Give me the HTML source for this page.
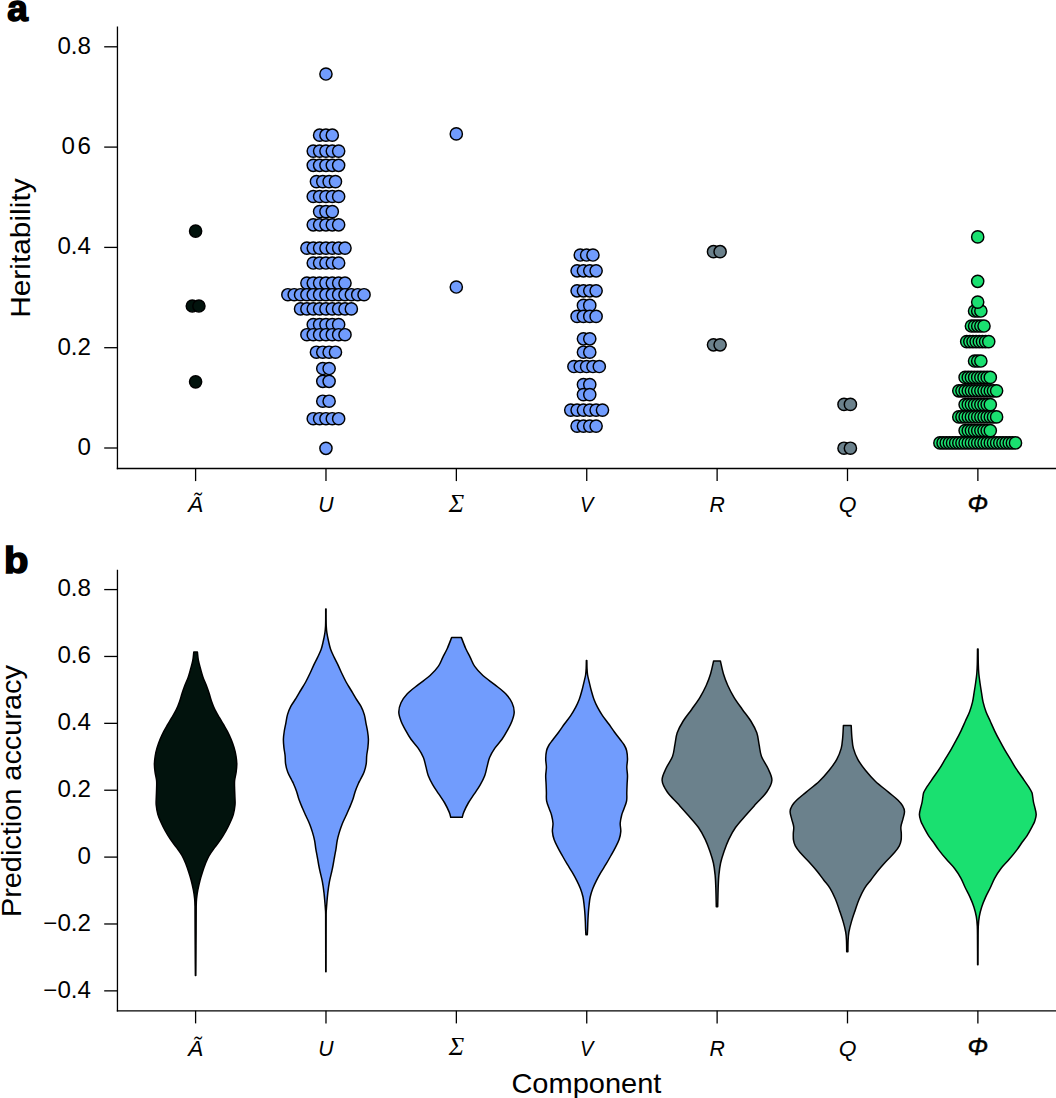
<!DOCTYPE html>
<html><head><meta charset="utf-8"><style>
html,body{margin:0;padding:0;background:#fff;}
svg{display:block;}
.tk{font-family:"Liberation Sans",sans-serif;font-size:23px;fill:#000;}
.at{font-family:"Liberation Sans",sans-serif;font-size:27px;fill:#000;}
.pl{font-family:"Liberation Sans",sans-serif;font-size:37px;font-weight:bold;fill:#000;stroke:#000;stroke-width:1.6px;}
.xl{font-family:"Liberation Sans",sans-serif;font-size:22.8px;font-style:italic;fill:#000;}
.xphi{font-family:"Liberation Serif",serif;font-size:26px;font-style:italic;fill:#000;}
.xphi2{font-family:"Liberation Sans",sans-serif;font-size:24.5px;font-style:italic;fill:#000;stroke:#000;stroke-width:0.5px;}
</style></head><body>
<svg width="1056" height="1098" viewBox="0 0 1056 1098">
<line x1="117.45" y1="26.6" x2="117.45" y2="469.15" stroke="#000" stroke-width="1.3"/>
<line x1="116.8" y1="468.5" x2="1056" y2="468.5" stroke="#000" stroke-width="1.3"/>
<line x1="104.2" y1="448.00" x2="117.45" y2="448.00" stroke="#000" stroke-width="1.3"/>
<text transform="translate(91.0 454.90) scale(1.05 1)" class="tk" text-anchor="end">0</text>
<line x1="104.2" y1="347.70" x2="117.45" y2="347.70" stroke="#000" stroke-width="1.3"/>
<text transform="translate(91.0 354.60) scale(1.05 1)" class="tk" text-anchor="end">0.2</text>
<line x1="104.2" y1="247.40" x2="117.45" y2="247.40" stroke="#000" stroke-width="1.3"/>
<text transform="translate(91.0 254.30) scale(1.05 1)" class="tk" text-anchor="end">0.4</text>
<line x1="104.2" y1="147.10" x2="117.45" y2="147.10" stroke="#000" stroke-width="1.3"/>
<text transform="translate(91.0 154.00) scale(1.05 1)" class="tk" text-anchor="end">0<tspan dx="2.5">6</tspan></text>
<line x1="104.2" y1="46.80" x2="117.45" y2="46.80" stroke="#000" stroke-width="1.3"/>
<text transform="translate(91.0 53.70) scale(1.05 1)" class="tk" text-anchor="end">0.8</text>
<line x1="195.60" y1="468.5" x2="195.60" y2="481.10" stroke="#000" stroke-width="1.3"/>
<line x1="325.98" y1="468.5" x2="325.98" y2="481.10" stroke="#000" stroke-width="1.3"/>
<line x1="456.36" y1="468.5" x2="456.36" y2="481.10" stroke="#000" stroke-width="1.3"/>
<line x1="586.74" y1="468.5" x2="586.74" y2="481.10" stroke="#000" stroke-width="1.3"/>
<line x1="717.12" y1="468.5" x2="717.12" y2="481.10" stroke="#000" stroke-width="1.3"/>
<line x1="847.50" y1="468.5" x2="847.50" y2="481.10" stroke="#000" stroke-width="1.3"/>
<line x1="977.88" y1="468.5" x2="977.88" y2="481.10" stroke="#000" stroke-width="1.3"/>
<text transform="translate(195.60 512.3) scale(1.0 1)" class="xl" text-anchor="middle">A&#771;</text>
<text transform="translate(325.98 512.3) scale(0.93 1)" class="xl" text-anchor="middle">U</text>
<text transform="translate(586.74 512.3) scale(0.88 1)" class="xl" text-anchor="middle">V</text>
<text transform="translate(717.12 512.3) scale(0.93 1)" class="xl" text-anchor="middle">R</text>
<text transform="translate(847.50 512.3) scale(1.0 1)" class="xl" text-anchor="middle">Q</text>
<text x="456.36" y="511.79999999999995" class="xphi" text-anchor="middle">&#931;</text>
<text x="977.88" y="511.79999999999995" class="xphi2" text-anchor="middle">&#934;</text>
<line x1="117.45" y1="569.8" x2="117.45" y2="1011.4499999999999" stroke="#000" stroke-width="1.3"/>
<line x1="116.8" y1="1010.8" x2="1056" y2="1010.8" stroke="#000" stroke-width="1.3"/>
<line x1="104.2" y1="990.86" x2="117.45" y2="990.86" stroke="#000" stroke-width="1.3"/>
<text transform="translate(91.0 997.76) scale(1.05 1)" class="tk" text-anchor="end">&#8722;0.4</text>
<line x1="104.2" y1="923.98" x2="117.45" y2="923.98" stroke="#000" stroke-width="1.3"/>
<text transform="translate(91.0 930.88) scale(1.05 1)" class="tk" text-anchor="end">&#8722;0.2</text>
<line x1="104.2" y1="857.10" x2="117.45" y2="857.10" stroke="#000" stroke-width="1.3"/>
<text transform="translate(91.0 864.00) scale(1.05 1)" class="tk" text-anchor="end">0</text>
<line x1="104.2" y1="790.22" x2="117.45" y2="790.22" stroke="#000" stroke-width="1.3"/>
<text transform="translate(91.0 797.12) scale(1.05 1)" class="tk" text-anchor="end">0.2</text>
<line x1="104.2" y1="723.34" x2="117.45" y2="723.34" stroke="#000" stroke-width="1.3"/>
<text transform="translate(91.0 730.24) scale(1.05 1)" class="tk" text-anchor="end">0.4</text>
<line x1="104.2" y1="656.46" x2="117.45" y2="656.46" stroke="#000" stroke-width="1.3"/>
<text transform="translate(91.0 663.36) scale(1.05 1)" class="tk" text-anchor="end">0.6</text>
<line x1="104.2" y1="589.58" x2="117.45" y2="589.58" stroke="#000" stroke-width="1.3"/>
<text transform="translate(91.0 596.48) scale(1.05 1)" class="tk" text-anchor="end">0.8</text>
<line x1="195.60" y1="1010.8" x2="195.60" y2="1023.40" stroke="#000" stroke-width="1.3"/>
<line x1="325.98" y1="1010.8" x2="325.98" y2="1023.40" stroke="#000" stroke-width="1.3"/>
<line x1="456.36" y1="1010.8" x2="456.36" y2="1023.40" stroke="#000" stroke-width="1.3"/>
<line x1="586.74" y1="1010.8" x2="586.74" y2="1023.40" stroke="#000" stroke-width="1.3"/>
<line x1="717.12" y1="1010.8" x2="717.12" y2="1023.40" stroke="#000" stroke-width="1.3"/>
<line x1="847.50" y1="1010.8" x2="847.50" y2="1023.40" stroke="#000" stroke-width="1.3"/>
<line x1="977.88" y1="1010.8" x2="977.88" y2="1023.40" stroke="#000" stroke-width="1.3"/>
<text transform="translate(195.60 1055.6) scale(1.0 1)" class="xl" text-anchor="middle">A&#771;</text>
<text transform="translate(325.98 1055.6) scale(0.93 1)" class="xl" text-anchor="middle">U</text>
<text transform="translate(586.74 1055.6) scale(0.88 1)" class="xl" text-anchor="middle">V</text>
<text transform="translate(717.12 1055.6) scale(0.93 1)" class="xl" text-anchor="middle">R</text>
<text transform="translate(847.50 1055.6) scale(1.0 1)" class="xl" text-anchor="middle">Q</text>
<text x="456.36" y="1055.1" class="xphi" text-anchor="middle">&#931;</text>
<text x="977.88" y="1055.1" class="xphi2" text-anchor="middle">&#934;</text>
<text transform="translate(7.3 20.8) scale(1.0 1)" class="pl">a</text>
<text transform="translate(4.0 573.3) scale(1.08 1)" class="pl">b</text>
<text transform="translate(29.9 248.1) rotate(-90) scale(1.107 1)" class="at" text-anchor="middle">Heritability</text>
<text transform="translate(20.8 791.1) rotate(-90) scale(1.07 1)" class="at" text-anchor="middle">Prediction accuracy</text>
<text transform="translate(586.4 1093.1) scale(1.075 1)" class="at" text-anchor="middle">Component</text>
<circle cx="195.60" cy="231.10" r="6.1" fill="#02130d" stroke="#000" stroke-width="1.45"/>
<circle cx="192.30" cy="306.00" r="6.1" fill="#02130d" stroke="#000" stroke-width="1.45"/>
<circle cx="198.90" cy="306.00" r="6.1" fill="#02130d" stroke="#000" stroke-width="1.45"/>
<circle cx="195.60" cy="381.80" r="6.1" fill="#02130d" stroke="#000" stroke-width="1.45"/>
<circle cx="325.95" cy="74.00" r="6.1" fill="#719cfd" stroke="#000" stroke-width="1.45"/>
<circle cx="319.60" cy="135.20" r="6.1" fill="#719cfd" stroke="#000" stroke-width="1.45"/>
<circle cx="325.95" cy="135.20" r="6.1" fill="#719cfd" stroke="#000" stroke-width="1.45"/>
<circle cx="332.30" cy="135.20" r="6.1" fill="#719cfd" stroke="#000" stroke-width="1.45"/>
<circle cx="313.25" cy="151.10" r="6.1" fill="#719cfd" stroke="#000" stroke-width="1.45"/>
<circle cx="319.60" cy="151.10" r="6.1" fill="#719cfd" stroke="#000" stroke-width="1.45"/>
<circle cx="325.95" cy="151.10" r="6.1" fill="#719cfd" stroke="#000" stroke-width="1.45"/>
<circle cx="332.30" cy="151.10" r="6.1" fill="#719cfd" stroke="#000" stroke-width="1.45"/>
<circle cx="338.65" cy="151.10" r="6.1" fill="#719cfd" stroke="#000" stroke-width="1.45"/>
<circle cx="313.25" cy="165.30" r="6.1" fill="#719cfd" stroke="#000" stroke-width="1.45"/>
<circle cx="319.60" cy="165.30" r="6.1" fill="#719cfd" stroke="#000" stroke-width="1.45"/>
<circle cx="325.95" cy="165.30" r="6.1" fill="#719cfd" stroke="#000" stroke-width="1.45"/>
<circle cx="332.30" cy="165.30" r="6.1" fill="#719cfd" stroke="#000" stroke-width="1.45"/>
<circle cx="338.65" cy="165.30" r="6.1" fill="#719cfd" stroke="#000" stroke-width="1.45"/>
<circle cx="316.43" cy="181.60" r="6.1" fill="#719cfd" stroke="#000" stroke-width="1.45"/>
<circle cx="322.77" cy="181.60" r="6.1" fill="#719cfd" stroke="#000" stroke-width="1.45"/>
<circle cx="329.12" cy="181.60" r="6.1" fill="#719cfd" stroke="#000" stroke-width="1.45"/>
<circle cx="335.47" cy="181.60" r="6.1" fill="#719cfd" stroke="#000" stroke-width="1.45"/>
<circle cx="313.25" cy="196.50" r="6.1" fill="#719cfd" stroke="#000" stroke-width="1.45"/>
<circle cx="319.60" cy="196.50" r="6.1" fill="#719cfd" stroke="#000" stroke-width="1.45"/>
<circle cx="325.95" cy="196.50" r="6.1" fill="#719cfd" stroke="#000" stroke-width="1.45"/>
<circle cx="332.30" cy="196.50" r="6.1" fill="#719cfd" stroke="#000" stroke-width="1.45"/>
<circle cx="338.65" cy="196.50" r="6.1" fill="#719cfd" stroke="#000" stroke-width="1.45"/>
<circle cx="319.60" cy="211.60" r="6.1" fill="#719cfd" stroke="#000" stroke-width="1.45"/>
<circle cx="325.95" cy="211.60" r="6.1" fill="#719cfd" stroke="#000" stroke-width="1.45"/>
<circle cx="332.30" cy="211.60" r="6.1" fill="#719cfd" stroke="#000" stroke-width="1.45"/>
<circle cx="313.25" cy="224.80" r="6.1" fill="#719cfd" stroke="#000" stroke-width="1.45"/>
<circle cx="319.60" cy="224.80" r="6.1" fill="#719cfd" stroke="#000" stroke-width="1.45"/>
<circle cx="325.95" cy="224.80" r="6.1" fill="#719cfd" stroke="#000" stroke-width="1.45"/>
<circle cx="332.30" cy="224.80" r="6.1" fill="#719cfd" stroke="#000" stroke-width="1.45"/>
<circle cx="338.65" cy="224.80" r="6.1" fill="#719cfd" stroke="#000" stroke-width="1.45"/>
<circle cx="306.90" cy="248.10" r="6.1" fill="#719cfd" stroke="#000" stroke-width="1.45"/>
<circle cx="313.25" cy="248.10" r="6.1" fill="#719cfd" stroke="#000" stroke-width="1.45"/>
<circle cx="319.60" cy="248.10" r="6.1" fill="#719cfd" stroke="#000" stroke-width="1.45"/>
<circle cx="325.95" cy="248.10" r="6.1" fill="#719cfd" stroke="#000" stroke-width="1.45"/>
<circle cx="332.30" cy="248.10" r="6.1" fill="#719cfd" stroke="#000" stroke-width="1.45"/>
<circle cx="338.65" cy="248.10" r="6.1" fill="#719cfd" stroke="#000" stroke-width="1.45"/>
<circle cx="345.00" cy="248.10" r="6.1" fill="#719cfd" stroke="#000" stroke-width="1.45"/>
<circle cx="313.25" cy="263.00" r="6.1" fill="#719cfd" stroke="#000" stroke-width="1.45"/>
<circle cx="319.60" cy="263.00" r="6.1" fill="#719cfd" stroke="#000" stroke-width="1.45"/>
<circle cx="325.95" cy="263.00" r="6.1" fill="#719cfd" stroke="#000" stroke-width="1.45"/>
<circle cx="332.30" cy="263.00" r="6.1" fill="#719cfd" stroke="#000" stroke-width="1.45"/>
<circle cx="338.65" cy="263.00" r="6.1" fill="#719cfd" stroke="#000" stroke-width="1.45"/>
<circle cx="306.90" cy="283.10" r="6.1" fill="#719cfd" stroke="#000" stroke-width="1.45"/>
<circle cx="313.25" cy="283.10" r="6.1" fill="#719cfd" stroke="#000" stroke-width="1.45"/>
<circle cx="319.60" cy="283.10" r="6.1" fill="#719cfd" stroke="#000" stroke-width="1.45"/>
<circle cx="325.95" cy="283.10" r="6.1" fill="#719cfd" stroke="#000" stroke-width="1.45"/>
<circle cx="332.30" cy="283.10" r="6.1" fill="#719cfd" stroke="#000" stroke-width="1.45"/>
<circle cx="338.65" cy="283.10" r="6.1" fill="#719cfd" stroke="#000" stroke-width="1.45"/>
<circle cx="345.00" cy="283.10" r="6.1" fill="#719cfd" stroke="#000" stroke-width="1.45"/>
<circle cx="287.85" cy="294.70" r="6.1" fill="#719cfd" stroke="#000" stroke-width="1.45"/>
<circle cx="294.20" cy="294.70" r="6.1" fill="#719cfd" stroke="#000" stroke-width="1.45"/>
<circle cx="300.55" cy="294.70" r="6.1" fill="#719cfd" stroke="#000" stroke-width="1.45"/>
<circle cx="306.90" cy="294.70" r="6.1" fill="#719cfd" stroke="#000" stroke-width="1.45"/>
<circle cx="313.25" cy="294.70" r="6.1" fill="#719cfd" stroke="#000" stroke-width="1.45"/>
<circle cx="319.60" cy="294.70" r="6.1" fill="#719cfd" stroke="#000" stroke-width="1.45"/>
<circle cx="325.95" cy="294.70" r="6.1" fill="#719cfd" stroke="#000" stroke-width="1.45"/>
<circle cx="332.30" cy="294.70" r="6.1" fill="#719cfd" stroke="#000" stroke-width="1.45"/>
<circle cx="338.65" cy="294.70" r="6.1" fill="#719cfd" stroke="#000" stroke-width="1.45"/>
<circle cx="345.00" cy="294.70" r="6.1" fill="#719cfd" stroke="#000" stroke-width="1.45"/>
<circle cx="351.35" cy="294.70" r="6.1" fill="#719cfd" stroke="#000" stroke-width="1.45"/>
<circle cx="357.70" cy="294.70" r="6.1" fill="#719cfd" stroke="#000" stroke-width="1.45"/>
<circle cx="364.05" cy="294.70" r="6.1" fill="#719cfd" stroke="#000" stroke-width="1.45"/>
<circle cx="300.55" cy="308.90" r="6.1" fill="#719cfd" stroke="#000" stroke-width="1.45"/>
<circle cx="306.90" cy="308.90" r="6.1" fill="#719cfd" stroke="#000" stroke-width="1.45"/>
<circle cx="313.25" cy="308.90" r="6.1" fill="#719cfd" stroke="#000" stroke-width="1.45"/>
<circle cx="319.60" cy="308.90" r="6.1" fill="#719cfd" stroke="#000" stroke-width="1.45"/>
<circle cx="325.95" cy="308.90" r="6.1" fill="#719cfd" stroke="#000" stroke-width="1.45"/>
<circle cx="332.30" cy="308.90" r="6.1" fill="#719cfd" stroke="#000" stroke-width="1.45"/>
<circle cx="338.65" cy="308.90" r="6.1" fill="#719cfd" stroke="#000" stroke-width="1.45"/>
<circle cx="345.00" cy="308.90" r="6.1" fill="#719cfd" stroke="#000" stroke-width="1.45"/>
<circle cx="351.35" cy="308.90" r="6.1" fill="#719cfd" stroke="#000" stroke-width="1.45"/>
<circle cx="313.25" cy="324.50" r="6.1" fill="#719cfd" stroke="#000" stroke-width="1.45"/>
<circle cx="319.60" cy="324.50" r="6.1" fill="#719cfd" stroke="#000" stroke-width="1.45"/>
<circle cx="325.95" cy="324.50" r="6.1" fill="#719cfd" stroke="#000" stroke-width="1.45"/>
<circle cx="332.30" cy="324.50" r="6.1" fill="#719cfd" stroke="#000" stroke-width="1.45"/>
<circle cx="338.65" cy="324.50" r="6.1" fill="#719cfd" stroke="#000" stroke-width="1.45"/>
<circle cx="306.90" cy="334.70" r="6.1" fill="#719cfd" stroke="#000" stroke-width="1.45"/>
<circle cx="313.25" cy="334.70" r="6.1" fill="#719cfd" stroke="#000" stroke-width="1.45"/>
<circle cx="319.60" cy="334.70" r="6.1" fill="#719cfd" stroke="#000" stroke-width="1.45"/>
<circle cx="325.95" cy="334.70" r="6.1" fill="#719cfd" stroke="#000" stroke-width="1.45"/>
<circle cx="332.30" cy="334.70" r="6.1" fill="#719cfd" stroke="#000" stroke-width="1.45"/>
<circle cx="338.65" cy="334.70" r="6.1" fill="#719cfd" stroke="#000" stroke-width="1.45"/>
<circle cx="345.00" cy="334.70" r="6.1" fill="#719cfd" stroke="#000" stroke-width="1.45"/>
<circle cx="316.43" cy="352.20" r="6.1" fill="#719cfd" stroke="#000" stroke-width="1.45"/>
<circle cx="322.77" cy="352.20" r="6.1" fill="#719cfd" stroke="#000" stroke-width="1.45"/>
<circle cx="329.12" cy="352.20" r="6.1" fill="#719cfd" stroke="#000" stroke-width="1.45"/>
<circle cx="335.47" cy="352.20" r="6.1" fill="#719cfd" stroke="#000" stroke-width="1.45"/>
<circle cx="322.77" cy="368.50" r="6.1" fill="#719cfd" stroke="#000" stroke-width="1.45"/>
<circle cx="329.12" cy="368.50" r="6.1" fill="#719cfd" stroke="#000" stroke-width="1.45"/>
<circle cx="322.77" cy="381.30" r="6.1" fill="#719cfd" stroke="#000" stroke-width="1.45"/>
<circle cx="329.12" cy="381.30" r="6.1" fill="#719cfd" stroke="#000" stroke-width="1.45"/>
<circle cx="322.77" cy="401.20" r="6.1" fill="#719cfd" stroke="#000" stroke-width="1.45"/>
<circle cx="329.12" cy="401.20" r="6.1" fill="#719cfd" stroke="#000" stroke-width="1.45"/>
<circle cx="313.25" cy="418.70" r="6.1" fill="#719cfd" stroke="#000" stroke-width="1.45"/>
<circle cx="319.60" cy="418.70" r="6.1" fill="#719cfd" stroke="#000" stroke-width="1.45"/>
<circle cx="325.95" cy="418.70" r="6.1" fill="#719cfd" stroke="#000" stroke-width="1.45"/>
<circle cx="332.30" cy="418.70" r="6.1" fill="#719cfd" stroke="#000" stroke-width="1.45"/>
<circle cx="338.65" cy="418.70" r="6.1" fill="#719cfd" stroke="#000" stroke-width="1.45"/>
<circle cx="325.95" cy="448.30" r="6.1" fill="#719cfd" stroke="#000" stroke-width="1.45"/>
<circle cx="456.30" cy="133.90" r="6.1" fill="#719cfd" stroke="#000" stroke-width="1.45"/>
<circle cx="456.30" cy="287.00" r="6.1" fill="#719cfd" stroke="#000" stroke-width="1.45"/>
<circle cx="580.25" cy="255.00" r="6.1" fill="#719cfd" stroke="#000" stroke-width="1.45"/>
<circle cx="586.60" cy="255.00" r="6.1" fill="#719cfd" stroke="#000" stroke-width="1.45"/>
<circle cx="592.95" cy="255.00" r="6.1" fill="#719cfd" stroke="#000" stroke-width="1.45"/>
<circle cx="577.08" cy="270.80" r="6.1" fill="#719cfd" stroke="#000" stroke-width="1.45"/>
<circle cx="583.43" cy="270.80" r="6.1" fill="#719cfd" stroke="#000" stroke-width="1.45"/>
<circle cx="589.77" cy="270.80" r="6.1" fill="#719cfd" stroke="#000" stroke-width="1.45"/>
<circle cx="596.12" cy="270.80" r="6.1" fill="#719cfd" stroke="#000" stroke-width="1.45"/>
<circle cx="577.08" cy="290.80" r="6.1" fill="#719cfd" stroke="#000" stroke-width="1.45"/>
<circle cx="583.43" cy="290.80" r="6.1" fill="#719cfd" stroke="#000" stroke-width="1.45"/>
<circle cx="589.77" cy="290.80" r="6.1" fill="#719cfd" stroke="#000" stroke-width="1.45"/>
<circle cx="596.12" cy="290.80" r="6.1" fill="#719cfd" stroke="#000" stroke-width="1.45"/>
<circle cx="583.43" cy="305.40" r="6.1" fill="#719cfd" stroke="#000" stroke-width="1.45"/>
<circle cx="589.77" cy="305.40" r="6.1" fill="#719cfd" stroke="#000" stroke-width="1.45"/>
<circle cx="577.08" cy="316.40" r="6.1" fill="#719cfd" stroke="#000" stroke-width="1.45"/>
<circle cx="583.43" cy="316.40" r="6.1" fill="#719cfd" stroke="#000" stroke-width="1.45"/>
<circle cx="589.77" cy="316.40" r="6.1" fill="#719cfd" stroke="#000" stroke-width="1.45"/>
<circle cx="596.12" cy="316.40" r="6.1" fill="#719cfd" stroke="#000" stroke-width="1.45"/>
<circle cx="583.43" cy="338.80" r="6.1" fill="#719cfd" stroke="#000" stroke-width="1.45"/>
<circle cx="589.77" cy="338.80" r="6.1" fill="#719cfd" stroke="#000" stroke-width="1.45"/>
<circle cx="583.43" cy="352.20" r="6.1" fill="#719cfd" stroke="#000" stroke-width="1.45"/>
<circle cx="589.77" cy="352.20" r="6.1" fill="#719cfd" stroke="#000" stroke-width="1.45"/>
<circle cx="573.90" cy="366.50" r="6.1" fill="#719cfd" stroke="#000" stroke-width="1.45"/>
<circle cx="580.25" cy="366.50" r="6.1" fill="#719cfd" stroke="#000" stroke-width="1.45"/>
<circle cx="586.60" cy="366.50" r="6.1" fill="#719cfd" stroke="#000" stroke-width="1.45"/>
<circle cx="592.95" cy="366.50" r="6.1" fill="#719cfd" stroke="#000" stroke-width="1.45"/>
<circle cx="599.30" cy="366.50" r="6.1" fill="#719cfd" stroke="#000" stroke-width="1.45"/>
<circle cx="583.43" cy="384.60" r="6.1" fill="#719cfd" stroke="#000" stroke-width="1.45"/>
<circle cx="589.77" cy="384.60" r="6.1" fill="#719cfd" stroke="#000" stroke-width="1.45"/>
<circle cx="583.43" cy="394.60" r="6.1" fill="#719cfd" stroke="#000" stroke-width="1.45"/>
<circle cx="589.77" cy="394.60" r="6.1" fill="#719cfd" stroke="#000" stroke-width="1.45"/>
<circle cx="570.73" cy="410.10" r="6.1" fill="#719cfd" stroke="#000" stroke-width="1.45"/>
<circle cx="577.08" cy="410.10" r="6.1" fill="#719cfd" stroke="#000" stroke-width="1.45"/>
<circle cx="583.43" cy="410.10" r="6.1" fill="#719cfd" stroke="#000" stroke-width="1.45"/>
<circle cx="589.77" cy="410.10" r="6.1" fill="#719cfd" stroke="#000" stroke-width="1.45"/>
<circle cx="596.12" cy="410.10" r="6.1" fill="#719cfd" stroke="#000" stroke-width="1.45"/>
<circle cx="602.48" cy="410.10" r="6.1" fill="#719cfd" stroke="#000" stroke-width="1.45"/>
<circle cx="577.08" cy="426.10" r="6.1" fill="#719cfd" stroke="#000" stroke-width="1.45"/>
<circle cx="583.43" cy="426.10" r="6.1" fill="#719cfd" stroke="#000" stroke-width="1.45"/>
<circle cx="589.77" cy="426.10" r="6.1" fill="#719cfd" stroke="#000" stroke-width="1.45"/>
<circle cx="596.12" cy="426.10" r="6.1" fill="#719cfd" stroke="#000" stroke-width="1.45"/>
<circle cx="713.50" cy="251.70" r="6.1" fill="#6b818c" stroke="#000" stroke-width="1.45"/>
<circle cx="720.10" cy="251.70" r="6.1" fill="#6b818c" stroke="#000" stroke-width="1.45"/>
<circle cx="713.50" cy="344.80" r="6.1" fill="#6b818c" stroke="#000" stroke-width="1.45"/>
<circle cx="720.10" cy="344.80" r="6.1" fill="#6b818c" stroke="#000" stroke-width="1.45"/>
<circle cx="844.00" cy="404.40" r="6.1" fill="#6b818c" stroke="#000" stroke-width="1.45"/>
<circle cx="850.40" cy="404.40" r="6.1" fill="#6b818c" stroke="#000" stroke-width="1.45"/>
<circle cx="844.00" cy="448.20" r="6.1" fill="#6b818c" stroke="#000" stroke-width="1.45"/>
<circle cx="850.40" cy="448.20" r="6.1" fill="#6b818c" stroke="#000" stroke-width="1.45"/>
<circle cx="977.70" cy="236.90" r="6.1" fill="#1ae070" stroke="#000" stroke-width="1.45"/>
<circle cx="977.70" cy="281.30" r="6.1" fill="#1ae070" stroke="#000" stroke-width="1.45"/>
<circle cx="974.55" cy="311.00" r="6.1" fill="#1ae070" stroke="#000" stroke-width="1.45"/>
<circle cx="977.70" cy="311.00" r="6.1" fill="#1ae070" stroke="#000" stroke-width="1.45"/>
<circle cx="980.85" cy="311.00" r="6.1" fill="#1ae070" stroke="#000" stroke-width="1.45"/>
<circle cx="977.70" cy="302.10" r="6.1" fill="#1ae070" stroke="#000" stroke-width="1.45"/>
<circle cx="971.40" cy="326.00" r="6.1" fill="#1ae070" stroke="#000" stroke-width="1.45"/>
<circle cx="974.55" cy="326.00" r="6.1" fill="#1ae070" stroke="#000" stroke-width="1.45"/>
<circle cx="977.70" cy="326.00" r="6.1" fill="#1ae070" stroke="#000" stroke-width="1.45"/>
<circle cx="980.85" cy="326.00" r="6.1" fill="#1ae070" stroke="#000" stroke-width="1.45"/>
<circle cx="984.00" cy="326.00" r="6.1" fill="#1ae070" stroke="#000" stroke-width="1.45"/>
<circle cx="966.68" cy="341.60" r="6.1" fill="#1ae070" stroke="#000" stroke-width="1.45"/>
<circle cx="969.83" cy="341.60" r="6.1" fill="#1ae070" stroke="#000" stroke-width="1.45"/>
<circle cx="972.98" cy="341.60" r="6.1" fill="#1ae070" stroke="#000" stroke-width="1.45"/>
<circle cx="976.12" cy="341.60" r="6.1" fill="#1ae070" stroke="#000" stroke-width="1.45"/>
<circle cx="979.28" cy="341.60" r="6.1" fill="#1ae070" stroke="#000" stroke-width="1.45"/>
<circle cx="982.43" cy="341.60" r="6.1" fill="#1ae070" stroke="#000" stroke-width="1.45"/>
<circle cx="985.58" cy="341.60" r="6.1" fill="#1ae070" stroke="#000" stroke-width="1.45"/>
<circle cx="988.73" cy="341.60" r="6.1" fill="#1ae070" stroke="#000" stroke-width="1.45"/>
<circle cx="974.55" cy="361.00" r="6.1" fill="#1ae070" stroke="#000" stroke-width="1.45"/>
<circle cx="977.70" cy="361.00" r="6.1" fill="#1ae070" stroke="#000" stroke-width="1.45"/>
<circle cx="980.85" cy="361.00" r="6.1" fill="#1ae070" stroke="#000" stroke-width="1.45"/>
<circle cx="965.10" cy="377.40" r="6.1" fill="#1ae070" stroke="#000" stroke-width="1.45"/>
<circle cx="968.25" cy="377.40" r="6.1" fill="#1ae070" stroke="#000" stroke-width="1.45"/>
<circle cx="971.40" cy="377.40" r="6.1" fill="#1ae070" stroke="#000" stroke-width="1.45"/>
<circle cx="974.55" cy="377.40" r="6.1" fill="#1ae070" stroke="#000" stroke-width="1.45"/>
<circle cx="977.70" cy="377.40" r="6.1" fill="#1ae070" stroke="#000" stroke-width="1.45"/>
<circle cx="980.85" cy="377.40" r="6.1" fill="#1ae070" stroke="#000" stroke-width="1.45"/>
<circle cx="984.00" cy="377.40" r="6.1" fill="#1ae070" stroke="#000" stroke-width="1.45"/>
<circle cx="987.15" cy="377.40" r="6.1" fill="#1ae070" stroke="#000" stroke-width="1.45"/>
<circle cx="990.30" cy="377.40" r="6.1" fill="#1ae070" stroke="#000" stroke-width="1.45"/>
<circle cx="958.80" cy="390.80" r="6.1" fill="#1ae070" stroke="#000" stroke-width="1.45"/>
<circle cx="961.95" cy="390.80" r="6.1" fill="#1ae070" stroke="#000" stroke-width="1.45"/>
<circle cx="965.10" cy="390.80" r="6.1" fill="#1ae070" stroke="#000" stroke-width="1.45"/>
<circle cx="968.25" cy="390.80" r="6.1" fill="#1ae070" stroke="#000" stroke-width="1.45"/>
<circle cx="971.40" cy="390.80" r="6.1" fill="#1ae070" stroke="#000" stroke-width="1.45"/>
<circle cx="974.55" cy="390.80" r="6.1" fill="#1ae070" stroke="#000" stroke-width="1.45"/>
<circle cx="977.70" cy="390.80" r="6.1" fill="#1ae070" stroke="#000" stroke-width="1.45"/>
<circle cx="980.85" cy="390.80" r="6.1" fill="#1ae070" stroke="#000" stroke-width="1.45"/>
<circle cx="984.00" cy="390.80" r="6.1" fill="#1ae070" stroke="#000" stroke-width="1.45"/>
<circle cx="987.15" cy="390.80" r="6.1" fill="#1ae070" stroke="#000" stroke-width="1.45"/>
<circle cx="990.30" cy="390.80" r="6.1" fill="#1ae070" stroke="#000" stroke-width="1.45"/>
<circle cx="993.45" cy="390.80" r="6.1" fill="#1ae070" stroke="#000" stroke-width="1.45"/>
<circle cx="996.60" cy="390.80" r="6.1" fill="#1ae070" stroke="#000" stroke-width="1.45"/>
<circle cx="965.10" cy="404.60" r="6.1" fill="#1ae070" stroke="#000" stroke-width="1.45"/>
<circle cx="968.25" cy="404.60" r="6.1" fill="#1ae070" stroke="#000" stroke-width="1.45"/>
<circle cx="971.40" cy="404.60" r="6.1" fill="#1ae070" stroke="#000" stroke-width="1.45"/>
<circle cx="974.55" cy="404.60" r="6.1" fill="#1ae070" stroke="#000" stroke-width="1.45"/>
<circle cx="977.70" cy="404.60" r="6.1" fill="#1ae070" stroke="#000" stroke-width="1.45"/>
<circle cx="980.85" cy="404.60" r="6.1" fill="#1ae070" stroke="#000" stroke-width="1.45"/>
<circle cx="984.00" cy="404.60" r="6.1" fill="#1ae070" stroke="#000" stroke-width="1.45"/>
<circle cx="987.15" cy="404.60" r="6.1" fill="#1ae070" stroke="#000" stroke-width="1.45"/>
<circle cx="990.30" cy="404.60" r="6.1" fill="#1ae070" stroke="#000" stroke-width="1.45"/>
<circle cx="958.80" cy="416.90" r="6.1" fill="#1ae070" stroke="#000" stroke-width="1.45"/>
<circle cx="961.95" cy="416.90" r="6.1" fill="#1ae070" stroke="#000" stroke-width="1.45"/>
<circle cx="965.10" cy="416.90" r="6.1" fill="#1ae070" stroke="#000" stroke-width="1.45"/>
<circle cx="968.25" cy="416.90" r="6.1" fill="#1ae070" stroke="#000" stroke-width="1.45"/>
<circle cx="971.40" cy="416.90" r="6.1" fill="#1ae070" stroke="#000" stroke-width="1.45"/>
<circle cx="974.55" cy="416.90" r="6.1" fill="#1ae070" stroke="#000" stroke-width="1.45"/>
<circle cx="977.70" cy="416.90" r="6.1" fill="#1ae070" stroke="#000" stroke-width="1.45"/>
<circle cx="980.85" cy="416.90" r="6.1" fill="#1ae070" stroke="#000" stroke-width="1.45"/>
<circle cx="984.00" cy="416.90" r="6.1" fill="#1ae070" stroke="#000" stroke-width="1.45"/>
<circle cx="987.15" cy="416.90" r="6.1" fill="#1ae070" stroke="#000" stroke-width="1.45"/>
<circle cx="990.30" cy="416.90" r="6.1" fill="#1ae070" stroke="#000" stroke-width="1.45"/>
<circle cx="993.45" cy="416.90" r="6.1" fill="#1ae070" stroke="#000" stroke-width="1.45"/>
<circle cx="996.60" cy="416.90" r="6.1" fill="#1ae070" stroke="#000" stroke-width="1.45"/>
<circle cx="965.10" cy="430.60" r="6.1" fill="#1ae070" stroke="#000" stroke-width="1.45"/>
<circle cx="968.25" cy="430.60" r="6.1" fill="#1ae070" stroke="#000" stroke-width="1.45"/>
<circle cx="971.40" cy="430.60" r="6.1" fill="#1ae070" stroke="#000" stroke-width="1.45"/>
<circle cx="974.55" cy="430.60" r="6.1" fill="#1ae070" stroke="#000" stroke-width="1.45"/>
<circle cx="977.70" cy="430.60" r="6.1" fill="#1ae070" stroke="#000" stroke-width="1.45"/>
<circle cx="980.85" cy="430.60" r="6.1" fill="#1ae070" stroke="#000" stroke-width="1.45"/>
<circle cx="984.00" cy="430.60" r="6.1" fill="#1ae070" stroke="#000" stroke-width="1.45"/>
<circle cx="987.15" cy="430.60" r="6.1" fill="#1ae070" stroke="#000" stroke-width="1.45"/>
<circle cx="990.30" cy="430.60" r="6.1" fill="#1ae070" stroke="#000" stroke-width="1.45"/>
<circle cx="939.90" cy="442.90" r="6.1" fill="#1ae070" stroke="#000" stroke-width="1.45"/>
<circle cx="943.05" cy="442.90" r="6.1" fill="#1ae070" stroke="#000" stroke-width="1.45"/>
<circle cx="946.20" cy="442.90" r="6.1" fill="#1ae070" stroke="#000" stroke-width="1.45"/>
<circle cx="949.35" cy="442.90" r="6.1" fill="#1ae070" stroke="#000" stroke-width="1.45"/>
<circle cx="952.50" cy="442.90" r="6.1" fill="#1ae070" stroke="#000" stroke-width="1.45"/>
<circle cx="955.65" cy="442.90" r="6.1" fill="#1ae070" stroke="#000" stroke-width="1.45"/>
<circle cx="958.80" cy="442.90" r="6.1" fill="#1ae070" stroke="#000" stroke-width="1.45"/>
<circle cx="961.95" cy="442.90" r="6.1" fill="#1ae070" stroke="#000" stroke-width="1.45"/>
<circle cx="965.10" cy="442.90" r="6.1" fill="#1ae070" stroke="#000" stroke-width="1.45"/>
<circle cx="968.25" cy="442.90" r="6.1" fill="#1ae070" stroke="#000" stroke-width="1.45"/>
<circle cx="971.40" cy="442.90" r="6.1" fill="#1ae070" stroke="#000" stroke-width="1.45"/>
<circle cx="974.55" cy="442.90" r="6.1" fill="#1ae070" stroke="#000" stroke-width="1.45"/>
<circle cx="977.70" cy="442.90" r="6.1" fill="#1ae070" stroke="#000" stroke-width="1.45"/>
<circle cx="980.85" cy="442.90" r="6.1" fill="#1ae070" stroke="#000" stroke-width="1.45"/>
<circle cx="984.00" cy="442.90" r="6.1" fill="#1ae070" stroke="#000" stroke-width="1.45"/>
<circle cx="987.15" cy="442.90" r="6.1" fill="#1ae070" stroke="#000" stroke-width="1.45"/>
<circle cx="990.30" cy="442.90" r="6.1" fill="#1ae070" stroke="#000" stroke-width="1.45"/>
<circle cx="993.45" cy="442.90" r="6.1" fill="#1ae070" stroke="#000" stroke-width="1.45"/>
<circle cx="996.60" cy="442.90" r="6.1" fill="#1ae070" stroke="#000" stroke-width="1.45"/>
<circle cx="999.75" cy="442.90" r="6.1" fill="#1ae070" stroke="#000" stroke-width="1.45"/>
<circle cx="1002.90" cy="442.90" r="6.1" fill="#1ae070" stroke="#000" stroke-width="1.45"/>
<circle cx="1006.05" cy="442.90" r="6.1" fill="#1ae070" stroke="#000" stroke-width="1.45"/>
<circle cx="1009.20" cy="442.90" r="6.1" fill="#1ae070" stroke="#000" stroke-width="1.45"/>
<circle cx="1012.35" cy="442.90" r="6.1" fill="#1ae070" stroke="#000" stroke-width="1.45"/>
<circle cx="1015.50" cy="442.90" r="6.1" fill="#1ae070" stroke="#000" stroke-width="1.45"/>
<path d="M197.40,652.10 C197.57,653.50 197.88,657.73 198.40,660.50 C198.92,663.27 199.75,665.97 200.50,668.70 C201.25,671.43 201.95,674.17 202.90,676.90 C203.85,679.63 205.17,682.37 206.20,685.10 C207.23,687.83 208.20,690.57 209.10,693.30 C210.00,696.03 210.63,698.77 211.60,701.50 C212.57,704.23 213.57,706.97 214.90,709.70 C216.23,712.43 218.12,715.35 219.60,717.90 C221.08,720.45 222.50,722.75 223.80,725.00 C225.10,727.25 226.17,728.97 227.40,731.40 C228.63,733.83 230.08,736.87 231.20,739.60 C232.32,742.33 233.30,745.07 234.10,747.80 C234.90,750.53 235.55,753.27 236.00,756.00 C236.45,758.73 236.78,761.47 236.80,764.20 C236.82,766.93 236.47,769.67 236.10,772.40 C235.73,775.13 234.85,777.87 234.60,780.60 C234.35,783.33 234.55,786.07 234.60,788.80 C234.65,791.53 234.83,794.30 234.90,797.00 C234.97,799.70 235.27,802.07 235.00,805.00 C234.73,807.93 234.13,811.63 233.30,814.60 C232.47,817.57 231.23,820.07 230.00,822.80 C228.77,825.53 227.42,828.27 225.90,831.00 C224.38,833.73 222.75,836.47 220.90,839.20 C219.05,841.93 216.77,844.67 214.80,847.40 C212.83,850.13 210.67,852.87 209.10,855.60 C207.53,858.33 206.50,861.07 205.40,863.80 C204.30,866.53 203.38,869.30 202.50,872.00 C201.62,874.70 200.88,876.97 200.10,880.00 C199.32,883.03 198.38,887.13 197.80,890.20 C197.22,893.27 196.87,895.67 196.60,898.40 C196.33,901.13 196.28,901.13 196.20,906.60 C196.12,912.07 196.15,921.63 196.10,931.20 C196.05,940.77 195.95,956.62 195.90,964.00 C195.85,971.38 195.82,973.58 195.80,975.50 L195.40,975.50 C195.38,973.58 195.35,971.38 195.30,964.00 C195.25,956.62 195.15,940.77 195.10,931.20 C195.05,921.63 195.08,912.07 195.00,906.60 C194.92,901.13 194.87,901.13 194.60,898.40 C194.33,895.67 193.98,893.27 193.40,890.20 C192.82,887.13 191.88,883.03 191.10,880.00 C190.32,876.97 189.58,874.70 188.70,872.00 C187.82,869.30 186.90,866.53 185.80,863.80 C184.70,861.07 183.67,858.33 182.10,855.60 C180.53,852.87 178.37,850.13 176.40,847.40 C174.43,844.67 172.15,841.93 170.30,839.20 C168.45,836.47 166.82,833.73 165.30,831.00 C163.78,828.27 162.43,825.53 161.20,822.80 C159.97,820.07 158.73,817.57 157.90,814.60 C157.07,811.63 156.47,807.93 156.20,805.00 C155.93,802.07 156.23,799.70 156.30,797.00 C156.37,794.30 156.55,791.53 156.60,788.80 C156.65,786.07 156.85,783.33 156.60,780.60 C156.35,777.87 155.47,775.13 155.10,772.40 C154.73,769.67 154.38,766.93 154.40,764.20 C154.42,761.47 154.75,758.73 155.20,756.00 C155.65,753.27 156.30,750.53 157.10,747.80 C157.90,745.07 158.88,742.33 160.00,739.60 C161.12,736.87 162.57,733.83 163.80,731.40 C165.03,728.97 166.10,727.25 167.40,725.00 C168.70,722.75 170.12,720.45 171.60,717.90 C173.08,715.35 174.97,712.43 176.30,709.70 C177.63,706.97 178.63,704.23 179.60,701.50 C180.57,698.77 181.20,696.03 182.10,693.30 C183.00,690.57 183.97,687.83 185.00,685.10 C186.03,682.37 187.35,679.63 188.30,676.90 C189.25,674.17 189.95,671.43 190.70,668.70 C191.45,665.97 192.28,663.27 192.80,660.50 C193.32,657.73 193.63,653.50 193.80,652.10 Z" fill="#02130d" stroke="#000" stroke-width="1.5" stroke-linejoin="round"/>
<path d="M326.10,609.00 C326.10,610.50 326.07,615.17 326.10,618.00 C326.12,620.83 326.12,623.53 326.25,626.00 C326.38,628.47 326.52,630.30 326.90,632.80 C327.27,635.30 327.88,638.27 328.50,641.00 C329.12,643.73 329.65,646.47 330.60,649.20 C331.55,651.93 332.92,654.67 334.20,657.40 C335.48,660.13 337.00,662.87 338.30,665.60 C339.60,668.33 340.70,671.07 342.00,673.80 C343.30,676.53 344.62,679.30 346.10,682.00 C347.58,684.70 349.30,687.30 350.90,690.00 C352.50,692.70 354.02,695.47 355.70,698.20 C357.38,700.93 359.57,703.67 361.00,706.40 C362.43,709.13 363.48,711.87 364.30,714.60 C365.12,717.33 365.37,720.07 365.90,722.80 C366.43,725.53 367.08,728.27 367.50,731.00 C367.92,733.73 368.33,736.47 368.40,739.20 C368.47,741.93 368.18,744.67 367.90,747.40 C367.62,750.13 366.98,752.87 366.70,755.60 C366.42,758.33 366.63,761.07 366.20,763.80 C365.77,766.53 365.10,769.30 364.10,772.00 C363.10,774.70 361.13,778.13 360.20,780.00 C359.27,781.87 359.33,781.30 358.50,783.20 C357.67,785.10 356.15,788.67 355.20,791.40 C354.25,794.13 353.75,796.87 352.80,799.60 C351.85,802.33 350.67,805.07 349.50,807.80 C348.33,810.53 347.03,813.27 345.80,816.00 C344.57,818.73 343.18,821.47 342.10,824.20 C341.02,826.93 340.12,829.67 339.30,832.40 C338.48,835.13 337.75,837.87 337.20,840.60 C336.65,843.33 336.45,846.07 336.00,848.80 C335.55,851.53 334.98,854.30 334.50,857.00 C334.02,859.70 333.53,862.68 333.10,865.00 C332.67,867.32 332.52,868.08 331.90,870.90 C331.28,873.72 330.08,878.25 329.40,881.90 C328.72,885.55 328.23,889.17 327.80,892.80 C327.37,896.43 327.03,900.97 326.80,903.70 C326.57,906.43 326.51,907.38 326.40,909.20 C326.29,911.02 326.20,909.47 326.15,914.60 C326.10,919.73 326.12,930.48 326.10,940.00 C326.08,949.52 326.06,966.42 326.05,971.70 L325.75,971.70 C325.74,966.42 325.72,949.52 325.70,940.00 C325.68,930.48 325.70,919.73 325.65,914.60 C325.60,909.47 325.51,911.02 325.40,909.20 C325.29,907.38 325.23,906.43 325.00,903.70 C324.77,900.97 324.43,896.43 324.00,892.80 C323.57,889.17 323.08,885.55 322.40,881.90 C321.72,878.25 320.52,873.72 319.90,870.90 C319.28,868.08 319.13,867.32 318.70,865.00 C318.27,862.68 317.78,859.70 317.30,857.00 C316.82,854.30 316.25,851.53 315.80,848.80 C315.35,846.07 315.15,843.33 314.60,840.60 C314.05,837.87 313.32,835.13 312.50,832.40 C311.68,829.67 310.78,826.93 309.70,824.20 C308.62,821.47 307.23,818.73 306.00,816.00 C304.77,813.27 303.47,810.53 302.30,807.80 C301.13,805.07 299.95,802.33 299.00,799.60 C298.05,796.87 297.55,794.13 296.60,791.40 C295.65,788.67 294.13,785.10 293.30,783.20 C292.47,781.30 292.53,781.87 291.60,780.00 C290.67,778.13 288.70,774.70 287.70,772.00 C286.70,769.30 286.03,766.53 285.60,763.80 C285.17,761.07 285.38,758.33 285.10,755.60 C284.82,752.87 284.18,750.13 283.90,747.40 C283.62,744.67 283.33,741.93 283.40,739.20 C283.47,736.47 283.88,733.73 284.30,731.00 C284.72,728.27 285.37,725.53 285.90,722.80 C286.43,720.07 286.68,717.33 287.50,714.60 C288.32,711.87 289.37,709.13 290.80,706.40 C292.23,703.67 294.42,700.93 296.10,698.20 C297.78,695.47 299.30,692.70 300.90,690.00 C302.50,687.30 304.22,684.70 305.70,682.00 C307.18,679.30 308.50,676.53 309.80,673.80 C311.10,671.07 312.20,668.33 313.50,665.60 C314.80,662.87 316.32,660.13 317.60,657.40 C318.88,654.67 320.25,651.93 321.20,649.20 C322.15,646.47 322.68,643.73 323.30,641.00 C323.92,638.27 324.52,635.30 324.90,632.80 C325.27,630.30 325.42,628.47 325.55,626.00 C325.68,623.53 325.67,620.83 325.70,618.00 C325.73,615.17 325.70,610.50 325.70,609.00 Z" fill="#719cfd" stroke="#000" stroke-width="1.5" stroke-linejoin="round"/>
<path d="M461.40,637.60 C462.10,639.37 464.13,644.92 465.60,648.20 C467.07,651.48 468.68,654.27 470.20,657.30 C471.72,660.33 472.58,663.37 474.70,666.40 C476.82,669.43 479.57,672.47 482.90,675.50 C486.23,678.53 490.90,681.57 494.70,684.60 C498.50,687.63 502.82,690.67 505.70,693.70 C508.58,696.73 510.58,699.75 512.00,702.80 C513.42,705.85 514.20,708.97 514.20,712.00 C514.20,715.03 513.12,717.97 512.00,721.00 C510.88,724.03 509.17,727.15 507.50,730.20 C505.83,733.25 504.13,736.27 502.00,739.30 C499.87,742.33 496.77,745.37 494.70,748.40 C492.63,751.43 490.87,754.47 489.60,757.50 C488.33,760.53 487.92,763.57 487.10,766.60 C486.28,769.63 485.85,772.67 484.70,775.70 C483.55,778.73 481.93,781.77 480.20,784.80 C478.47,787.83 476.28,790.87 474.30,793.90 C472.32,796.93 470.05,799.97 468.30,803.00 C466.55,806.03 464.80,809.73 463.80,812.10 C462.80,814.47 462.55,816.35 462.30,817.20 L450.70,817.20 C450.45,816.35 450.20,814.47 449.20,812.10 C448.20,809.73 446.45,806.03 444.70,803.00 C442.95,799.97 440.68,796.93 438.70,793.90 C436.72,790.87 434.53,787.83 432.80,784.80 C431.07,781.77 429.45,778.73 428.30,775.70 C427.15,772.67 426.72,769.63 425.90,766.60 C425.08,763.57 424.67,760.53 423.40,757.50 C422.13,754.47 420.37,751.43 418.30,748.40 C416.23,745.37 413.13,742.33 411.00,739.30 C408.87,736.27 407.17,733.25 405.50,730.20 C403.83,727.15 402.12,724.03 401.00,721.00 C399.88,717.97 398.80,715.03 398.80,712.00 C398.80,708.97 399.58,705.85 401.00,702.80 C402.42,699.75 404.42,696.73 407.30,693.70 C410.18,690.67 414.50,687.63 418.30,684.60 C422.10,681.57 426.77,678.53 430.10,675.50 C433.43,672.47 436.18,669.43 438.30,666.40 C440.42,663.37 441.28,660.33 442.80,657.30 C444.32,654.27 445.93,651.48 447.40,648.20 C448.87,644.92 450.90,639.37 451.60,637.60 Z" fill="#719cfd" stroke="#000" stroke-width="1.5" stroke-linejoin="round"/>
<path d="M586.85,660.40 C586.88,661.67 586.88,665.57 587.00,668.00 C587.12,670.43 587.20,672.53 587.60,675.00 C588.00,677.47 588.77,680.13 589.40,682.80 C590.03,685.47 590.65,688.27 591.40,691.00 C592.15,693.73 592.87,696.47 593.90,699.20 C594.93,701.93 596.17,704.67 597.60,707.40 C599.03,710.13 600.67,712.87 602.50,715.60 C604.33,718.33 606.62,721.07 608.60,723.80 C610.58,726.53 612.42,729.30 614.40,732.00 C616.38,734.70 618.87,737.83 620.50,740.00 C622.13,742.17 623.18,743.25 624.20,745.00 C625.22,746.75 626.05,748.18 626.60,750.50 C627.15,752.82 627.47,756.10 627.50,758.90 C627.53,761.70 626.80,764.50 626.80,767.30 C626.80,770.10 627.45,772.92 627.50,775.70 C627.55,778.48 627.22,781.22 627.10,784.00 C626.98,786.78 626.88,789.60 626.80,792.40 C626.72,795.20 627.10,798.00 626.60,800.80 C626.10,803.60 624.62,806.83 623.80,809.20 C622.98,811.57 622.30,812.67 621.70,815.00 C621.10,817.33 620.35,820.47 620.20,823.20 C620.05,825.93 620.98,828.67 620.80,831.40 C620.62,834.13 620.03,836.87 619.10,839.60 C618.17,842.33 616.60,845.07 615.20,847.80 C613.80,850.53 612.23,853.27 610.70,856.00 C609.17,858.73 607.63,861.47 606.00,864.20 C604.37,866.93 602.50,869.67 600.90,872.40 C599.30,875.13 597.77,877.87 596.40,880.60 C595.03,883.33 593.73,886.07 592.70,888.80 C591.67,891.53 590.80,894.30 590.20,897.00 C589.60,899.70 589.40,902.47 589.10,905.00 C588.80,907.53 588.60,909.62 588.40,912.20 C588.20,914.78 588.03,917.72 587.90,920.50 C587.77,923.28 587.70,926.52 587.60,928.90 C587.50,931.28 587.35,933.82 587.30,934.80 L585.90,934.80 C585.85,933.82 585.70,931.28 585.60,928.90 C585.50,926.52 585.43,923.28 585.30,920.50 C585.17,917.72 585.00,914.78 584.80,912.20 C584.60,909.62 584.40,907.53 584.10,905.00 C583.80,902.47 583.60,899.70 583.00,897.00 C582.40,894.30 581.53,891.53 580.50,888.80 C579.47,886.07 578.17,883.33 576.80,880.60 C575.43,877.87 573.90,875.13 572.30,872.40 C570.70,869.67 568.83,866.93 567.20,864.20 C565.57,861.47 564.03,858.73 562.50,856.00 C560.97,853.27 559.40,850.53 558.00,847.80 C556.60,845.07 555.03,842.33 554.10,839.60 C553.17,836.87 552.58,834.13 552.40,831.40 C552.22,828.67 553.15,825.93 553.00,823.20 C552.85,820.47 552.10,817.33 551.50,815.00 C550.90,812.67 550.22,811.57 549.40,809.20 C548.58,806.83 547.10,803.60 546.60,800.80 C546.10,798.00 546.48,795.20 546.40,792.40 C546.32,789.60 546.22,786.78 546.10,784.00 C545.98,781.22 545.65,778.48 545.70,775.70 C545.75,772.92 546.40,770.10 546.40,767.30 C546.40,764.50 545.67,761.70 545.70,758.90 C545.73,756.10 546.05,752.82 546.60,750.50 C547.15,748.18 547.98,746.75 549.00,745.00 C550.02,743.25 551.07,742.17 552.70,740.00 C554.33,737.83 556.82,734.70 558.80,732.00 C560.78,729.30 562.62,726.53 564.60,723.80 C566.58,721.07 568.87,718.33 570.70,715.60 C572.53,712.87 574.17,710.13 575.60,707.40 C577.03,704.67 578.27,701.93 579.30,699.20 C580.33,696.47 581.05,693.73 581.80,691.00 C582.55,688.27 583.17,685.47 583.80,682.80 C584.43,680.13 585.20,677.47 585.60,675.00 C586.00,672.53 586.08,670.43 586.20,668.00 C586.33,665.57 586.33,661.67 586.35,660.40 Z" fill="#719cfd" stroke="#000" stroke-width="1.5" stroke-linejoin="round"/>
<path d="M720.40,661.00 C720.90,663.12 722.17,669.62 723.40,673.70 C724.63,677.78 726.03,681.57 727.80,685.50 C729.57,689.43 731.60,693.35 734.00,697.30 C736.40,701.25 739.40,705.25 742.20,709.20 C745.00,713.15 748.37,717.07 750.80,721.00 C753.23,724.93 755.42,728.85 756.80,732.80 C758.18,736.75 758.32,740.75 759.10,744.70 C759.88,748.65 760.03,752.57 761.50,756.50 C762.97,760.43 766.17,764.35 767.90,768.30 C769.63,772.25 772.10,776.25 771.90,780.20 C771.70,784.15 769.35,788.07 766.70,792.00 C764.05,795.93 759.55,799.85 756.00,803.80 C752.45,807.75 748.82,811.75 745.40,815.70 C741.98,819.65 738.27,823.57 735.50,827.50 C732.73,831.43 730.70,835.35 728.80,839.30 C726.90,843.25 725.47,847.25 724.10,851.20 C722.73,855.15 721.47,859.05 720.60,863.00 C719.73,866.95 719.30,870.95 718.90,874.90 C718.50,878.85 718.40,881.38 718.20,886.70 C718.00,892.02 717.78,903.45 717.70,906.80 L716.30,906.80 C716.22,903.45 716.00,892.02 715.80,886.70 C715.60,881.38 715.50,878.85 715.10,874.90 C714.70,870.95 714.27,866.95 713.40,863.00 C712.53,859.05 711.27,855.15 709.90,851.20 C708.53,847.25 707.10,843.25 705.20,839.30 C703.30,835.35 701.27,831.43 698.50,827.50 C695.73,823.57 692.02,819.65 688.60,815.70 C685.18,811.75 681.55,807.75 678.00,803.80 C674.45,799.85 669.95,795.93 667.30,792.00 C664.65,788.07 662.30,784.15 662.10,780.20 C661.90,776.25 664.37,772.25 666.10,768.30 C667.83,764.35 671.03,760.43 672.50,756.50 C673.97,752.57 674.12,748.65 674.90,744.70 C675.68,740.75 675.82,736.75 677.20,732.80 C678.58,728.85 680.77,724.93 683.20,721.00 C685.63,717.07 689.00,713.15 691.80,709.20 C694.60,705.25 697.60,701.25 700.00,697.30 C702.40,693.35 704.43,689.43 706.20,685.50 C707.97,681.57 709.37,677.78 710.60,673.70 C711.83,669.62 713.10,663.12 713.60,661.00 Z" fill="#6b818c" stroke="#000" stroke-width="1.5" stroke-linejoin="round"/>
<path d="M851.20,725.50 C851.32,727.50 851.53,733.68 851.90,737.50 C852.27,741.32 852.42,744.77 853.40,748.40 C854.38,752.03 855.80,755.65 857.80,759.30 C859.80,762.95 862.48,766.65 865.40,770.30 C868.32,773.95 871.47,777.57 875.30,781.20 C879.13,784.83 884.65,788.97 888.40,792.10 C892.15,795.23 895.45,797.73 897.80,800.00 C900.15,802.27 901.38,803.78 902.50,805.70 C903.62,807.62 904.43,809.27 904.50,811.50 C904.57,813.73 903.50,816.55 902.90,819.10 C902.30,821.65 901.17,824.40 900.90,826.80 C900.63,829.20 901.27,831.27 901.30,833.50 C901.33,835.73 901.43,838.13 901.10,840.20 C900.77,842.27 900.40,843.83 899.30,845.90 C898.20,847.97 896.83,849.88 894.50,852.60 C892.17,855.32 888.20,859.02 885.30,862.20 C882.40,865.38 879.50,868.73 877.10,871.70 C874.70,874.67 873.00,877.23 870.90,880.00 C868.80,882.77 866.47,885.10 864.50,888.30 C862.53,891.50 860.65,895.55 859.10,899.20 C857.55,902.85 856.45,906.55 855.20,910.20 C853.95,913.85 852.65,917.47 851.60,921.10 C850.55,924.73 849.48,928.72 848.90,932.00 C848.32,935.28 848.27,937.52 848.10,940.80 C847.93,944.08 847.93,949.88 847.90,951.70 L846.70,951.70 C846.67,949.88 846.67,944.08 846.50,940.80 C846.33,937.52 846.28,935.28 845.70,932.00 C845.12,928.72 844.05,924.73 843.00,921.10 C841.95,917.47 840.65,913.85 839.40,910.20 C838.15,906.55 837.05,902.85 835.50,899.20 C833.95,895.55 832.07,891.50 830.10,888.30 C828.13,885.10 825.80,882.77 823.70,880.00 C821.60,877.23 819.90,874.67 817.50,871.70 C815.10,868.73 812.20,865.38 809.30,862.20 C806.40,859.02 802.43,855.32 800.10,852.60 C797.77,849.88 796.40,847.97 795.30,845.90 C794.20,843.83 793.83,842.27 793.50,840.20 C793.17,838.13 793.27,835.73 793.30,833.50 C793.33,831.27 793.97,829.20 793.70,826.80 C793.43,824.40 792.30,821.65 791.70,819.10 C791.10,816.55 790.03,813.73 790.10,811.50 C790.17,809.27 790.98,807.62 792.10,805.70 C793.22,803.78 794.45,802.27 796.80,800.00 C799.15,797.73 802.45,795.23 806.20,792.10 C809.95,788.97 815.47,784.83 819.30,781.20 C823.13,777.57 826.28,773.95 829.20,770.30 C832.12,766.65 834.80,762.95 836.80,759.30 C838.80,755.65 840.22,752.03 841.20,748.40 C842.18,744.77 842.33,741.32 842.70,737.50 C843.07,733.68 843.28,727.50 843.40,725.50 Z" fill="#6b818c" stroke="#000" stroke-width="1.5" stroke-linejoin="round"/>
<path d="M978.10,649.00 C978.13,651.48 978.18,659.82 978.30,663.90 C978.42,667.98 978.52,670.32 978.80,673.50 C979.08,676.68 979.55,679.82 980.00,683.00 C980.45,686.18 980.98,689.40 981.50,692.60 C982.02,695.80 982.35,699.02 983.10,702.20 C983.85,705.38 984.80,708.52 986.00,711.70 C987.20,714.88 988.87,718.12 990.30,721.30 C991.73,724.48 993.08,727.65 994.60,730.80 C996.12,733.95 997.73,737.07 999.40,740.20 C1001.07,743.33 1002.77,746.45 1004.60,749.60 C1006.43,752.75 1008.48,755.92 1010.40,759.10 C1012.32,762.28 1014.03,765.50 1016.10,768.70 C1018.17,771.90 1020.60,775.12 1022.80,778.30 C1025.00,781.48 1027.78,785.42 1029.30,787.80 C1030.82,790.18 1031.32,791.00 1031.90,792.60 C1032.48,794.20 1032.53,795.80 1032.80,797.40 C1033.07,799.00 1033.18,800.62 1033.50,802.20 C1033.82,803.78 1034.25,804.83 1034.70,806.90 C1035.15,808.97 1036.20,812.20 1036.20,814.60 C1036.20,817.00 1035.33,819.38 1034.70,821.30 C1034.07,823.22 1033.67,823.72 1032.40,826.10 C1031.13,828.48 1028.78,832.95 1027.10,835.60 C1025.42,838.25 1023.97,839.67 1022.30,842.00 C1020.63,844.33 1019.25,846.75 1017.10,849.60 C1014.95,852.45 1012.12,855.92 1009.40,859.10 C1006.68,862.28 1003.27,865.50 1000.80,868.70 C998.33,871.90 996.35,875.12 994.60,878.30 C992.85,881.48 991.82,884.62 990.30,887.80 C988.78,890.98 986.93,894.22 985.50,897.40 C984.07,900.58 982.73,903.72 981.70,906.90 C980.67,910.08 979.87,913.30 979.30,916.50 C978.73,919.70 978.50,922.18 978.30,926.10 C978.10,930.02 978.15,933.55 978.10,940.00 C978.05,946.45 978.02,960.67 978.00,964.80 L977.60,964.80 C977.58,960.67 977.55,946.45 977.50,940.00 C977.45,933.55 977.50,930.02 977.30,926.10 C977.10,922.18 976.87,919.70 976.30,916.50 C975.73,913.30 974.93,910.08 973.90,906.90 C972.87,903.72 971.53,900.58 970.10,897.40 C968.67,894.22 966.82,890.98 965.30,887.80 C963.78,884.62 962.75,881.48 961.00,878.30 C959.25,875.12 957.27,871.90 954.80,868.70 C952.33,865.50 948.92,862.28 946.20,859.10 C943.48,855.92 940.65,852.45 938.50,849.60 C936.35,846.75 934.97,844.33 933.30,842.00 C931.63,839.67 930.18,838.25 928.50,835.60 C926.82,832.95 924.47,828.48 923.20,826.10 C921.93,823.72 921.53,823.22 920.90,821.30 C920.27,819.38 919.40,817.00 919.40,814.60 C919.40,812.20 920.45,808.97 920.90,806.90 C921.35,804.83 921.78,803.78 922.10,802.20 C922.42,800.62 922.53,799.00 922.80,797.40 C923.07,795.80 923.12,794.20 923.70,792.60 C924.28,791.00 924.78,790.18 926.30,787.80 C927.82,785.42 930.60,781.48 932.80,778.30 C935.00,775.12 937.43,771.90 939.50,768.70 C941.57,765.50 943.28,762.28 945.20,759.10 C947.12,755.92 949.17,752.75 951.00,749.60 C952.83,746.45 954.53,743.33 956.20,740.20 C957.87,737.07 959.48,733.95 961.00,730.80 C962.52,727.65 963.87,724.48 965.30,721.30 C966.73,718.12 968.40,714.88 969.60,711.70 C970.80,708.52 971.75,705.38 972.50,702.20 C973.25,699.02 973.58,695.80 974.10,692.60 C974.62,689.40 975.15,686.18 975.60,683.00 C976.05,679.82 976.52,676.68 976.80,673.50 C977.08,670.32 977.18,667.98 977.30,663.90 C977.42,659.82 977.47,651.48 977.50,649.00 Z" fill="#1ae070" stroke="#000" stroke-width="1.5" stroke-linejoin="round"/>
</svg>
</body></html>
